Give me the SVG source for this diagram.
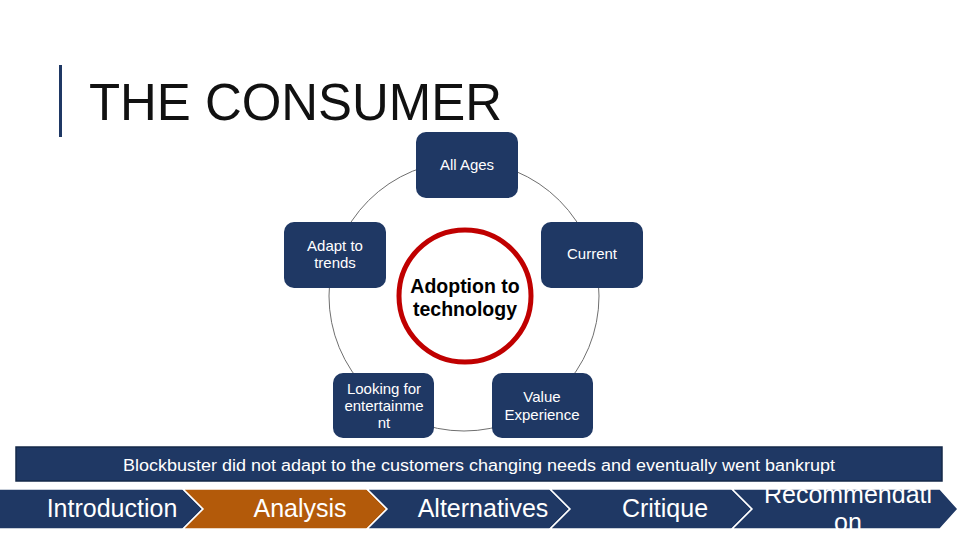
<svg xmlns="http://www.w3.org/2000/svg" width="960" height="540" viewBox="0 0 960 540">
<style>
.node{fill:#1F3864}
.nt{font-family:"Liberation Sans",Arial,sans-serif;font-size:15px;fill:#fff;text-anchor:middle}
.chev{stroke:#fff;stroke-width:1.5}
.ct{font-family:"Liberation Sans",Arial,sans-serif;font-size:25px;fill:#fff;text-anchor:middle}
</style>
<defs>
<clipPath id="recClip"><polygon points="732,489 940,489 958,509 940,529 732,529 752,509"/></clipPath>
</defs>
<rect width="960" height="540" fill="#fff"/>
<rect x="59" y="65" width="3" height="72" fill="#1F3864"/>
<text x="89" y="120" font-family="Liberation Sans,Arial,sans-serif" font-size="52" fill="#111" textLength="413" lengthAdjust="spacingAndGlyphs">THE CONSUMER</text>
<g id="connectors">
<circle cx="464" cy="296" r="135" fill="none" stroke="#6f6f6f" stroke-width="1"/>
</g>
<g id="node-all-ages">
<rect class="node" x="416" y="132" width="102" height="66" rx="10"/>
<text class="nt" x="467" y="170">All Ages</text>
</g>
<g id="node-adapt">
<rect class="node" x="284" y="222" width="102" height="66" rx="10"/>
<text class="nt" x="335" y="251">Adapt to</text>
<text class="nt" x="335" y="268">trends</text>
</g>
<g id="node-current">
<rect class="node" x="541" y="222" width="102" height="66" rx="10"/>
<text class="nt" x="592" y="259">Current</text>
</g>
<g id="node-looking">
<rect class="node" x="333" y="373" width="101" height="65" rx="10"/>
<text class="nt" x="384" y="394">Looking for</text>
<text class="nt" x="384" y="411">entertainme</text>
<text class="nt" x="384" y="428">nt</text>
</g>
<g id="node-value">
<rect class="node" x="492" y="373" width="101" height="65" rx="10"/>
<text class="nt" x="542" y="402">Value</text>
<text class="nt" x="542" y="420">Experience</text>
</g>
<g id="node-center">
<circle cx="465" cy="296" r="66" fill="#fff" stroke="#C00000" stroke-width="5"/>
<text x="465" y="293" font-family="Liberation Sans,Arial,sans-serif" font-size="19.5" font-weight="bold" fill="#000" text-anchor="middle">Adoption to</text>
<text x="465" y="316" font-family="Liberation Sans,Arial,sans-serif" font-size="19.5" font-weight="bold" fill="#000" text-anchor="middle">technology</text>
</g>
<g id="banner">
<rect x="16" y="447" width="926" height="34" fill="#1F3864" stroke="#142848" stroke-width="1.5"/>
<text x="479" y="471" font-family="Liberation Sans,Arial,sans-serif" font-size="16" fill="#fff" text-anchor="middle" textLength="712" lengthAdjust="spacingAndGlyphs">Blockbuster did not adapt to the customers changing needs and eventually went bankrupt</text>
</g>
<g id="chev-intro">
<polygon class="chev" fill="#1F3864" points="-2,489 183,489 203,509 183,529 -2,529"/>
<text class="ct" x="112" y="517">Introduction</text>
</g>
<g id="chev-analysis">
<polygon class="chev" fill="#B35A0A" points="183,489 367,489 387,509 367,529 183,529 203,509"/>
<text class="ct" x="300" y="517">Analysis</text>
</g>
<g id="chev-alt">
<polygon class="chev" fill="#1F3864" points="367,489 550,489 570,509 550,529 367,529 387,509"/>
<text class="ct" x="483" y="517">Alternatives</text>
</g>
<g id="chev-critique">
<polygon class="chev" fill="#1F3864" points="550,489 732,489 752,509 732,529 550,529 570,509"/>
<text class="ct" x="665" y="517">Critique</text>
</g>
<g id="chev-rec">
<polygon class="chev" fill="#1F3864" points="732,489 940,489 958,509 940,529 732,529 752,509"/>
<g clip-path="url(#recClip)">
<text class="ct" x="848" y="503">Recommendati</text>
<text class="ct" x="848" y="531">on</text>
</g>
</g>
</svg>
